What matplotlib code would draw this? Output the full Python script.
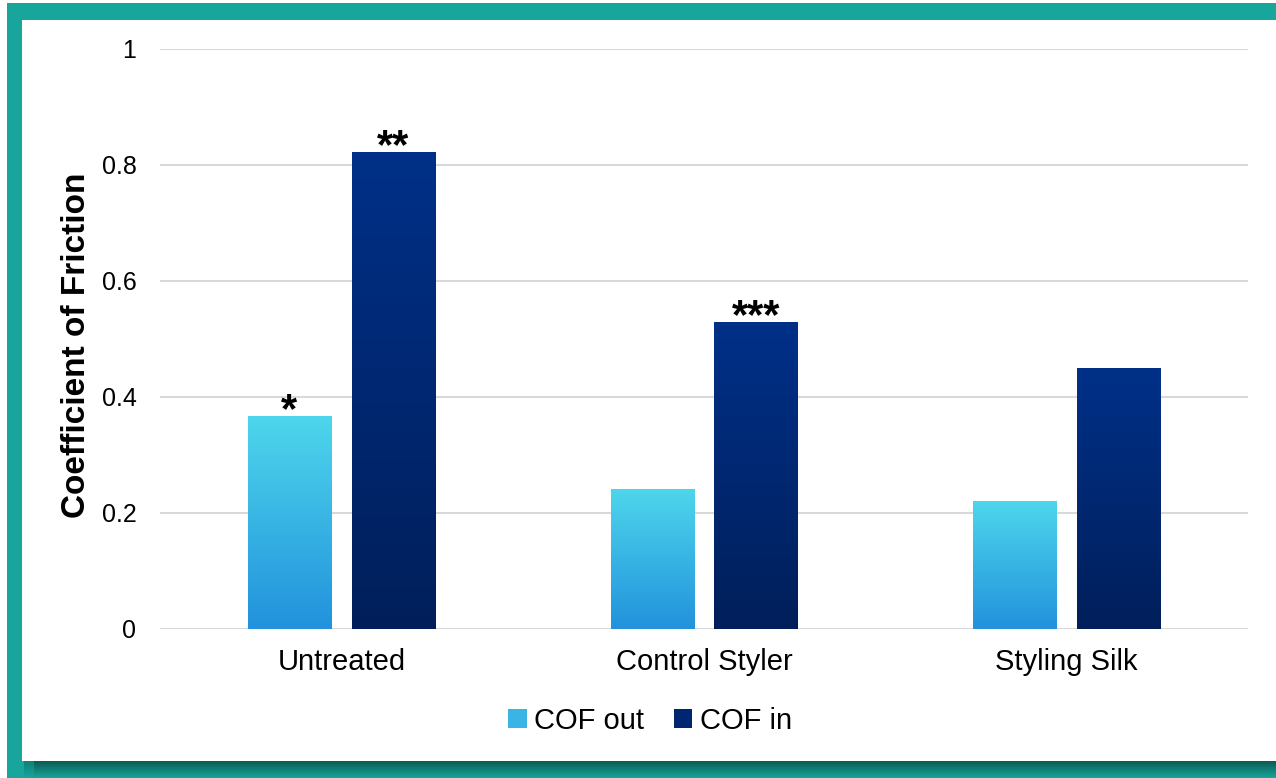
import numpy as np
import matplotlib
matplotlib.use("Agg")
import matplotlib.pyplot as plt
from matplotlib.patches import Rectangle, Patch
from matplotlib.colors import LinearSegmentedColormap

plt.rcParams['font.family'] = ['Liberation Sans', 'DejaVu Sans']

categories = ['Untreated', 'Control Styler', 'Styling Silk']
cof_out = [0.367, 0.240, 0.219]
cof_in = [0.821, 0.529, 0.450]
stars_out = ['*', '', '']
stars_in = ['**', '***', '']
series_names = ['COF out', 'COF in']
yticks = [0, 0.2, 0.4, 0.6, 0.8, 1]
ytick_labels = ['0', '0.2', '0.4', '0.6', '0.8', '1']

W, H = 1276, 778
fig = plt.figure(figsize=(W / 100, H / 100), dpi=100)

# background frame (pixel coords)
bg = fig.add_axes([0, 0, 1, 1])
teal = '#17A59C'
bg.add_patch(Rectangle((7, 3), W - 7, H - 3, color=teal, lw=0, zorder=1))
shadow = LinearSegmentedColormap.from_list('sh', ['#0C5A53', teal])
grad = np.linspace(0, 1, 64).reshape(-1, 1)
bg.imshow(grad, cmap=shadow, extent=(34, W, H, 761), aspect='auto', zorder=2)
bg.imshow(grad, cmap=shadow, extent=(24, 34, H, 761), aspect='auto', zorder=2, alpha=0.5)
bg.add_patch(Rectangle((22, 20), W - 22, 741, color='white', lw=0, zorder=3))
bg.set_xlim(0, W)
bg.set_ylim(H, 0)
bg.axis('off')

ax = fig.add_axes([160 / W, 1 - 629 / H, 1088 / W, 580 / H])
ax.set_facecolor('none')

x = np.arange(len(categories))
width = 0.229
off = 0.143
b_out = ax.bar(x - off, cof_out, width, color='none', zorder=3)
b_in = ax.bar(x + off, cof_in, width, color='none', zorder=3)

cm_out = LinearSegmentedColormap.from_list('out', ['#2292DC', '#4ED6EC'])
cm_in = LinearSegmentedColormap.from_list('in', ['#001F5A', '#003088'])
g = np.linspace(0, 1, 256).reshape(-1, 1)
for bars, cm in [(b_out, cm_out), (b_in, cm_in)]:
    for r in bars:
        x0, w, h = r.get_x(), r.get_width(), r.get_height()
        ax.imshow(g, cmap=cm, origin='lower', extent=(x0, x0 + w, 0, h),
                  aspect='auto', zorder=3)

for bars, labels in [(b_out, stars_out), (b_in, stars_in)]:
    for r, s in zip(bars, labels):
        if s:
            ax.annotate(s, (r.get_x() + r.get_width() / 2, r.get_height()),
                        xytext=(0, -4), textcoords='offset points',
                        ha='center', va='baseline', fontsize=30,
                        fontweight='bold', zorder=4)

ax.set_xlim(-0.5, len(categories) - 0.5)
ax.set_ylim(0, 1)
ax.set_yticks(yticks)
ax.set_yticklabels(ytick_labels)
ax.set_xticks(x)
ax.set_xticklabels(categories)
ax.tick_params(axis='y', length=0, pad=17, labelsize=18)
ax.tick_params(axis='x', length=0, pad=14, labelsize=21)
ax.grid(axis='y', color='#D9D9D9', lw=1.5, zorder=0)
for s in ax.spines.values():
    s.set_visible(False)
ax.set_ylabel('Coefficient of Friction', fontsize=24, fontweight='bold', va='center')
ax.yaxis.set_label_coords(-0.077, 0.49)

handles = [Patch(facecolor='#3AB4E4', edgecolor='none'),
           Patch(facecolor='#002670', edgecolor='none')]
fig.legend(handles, series_names, loc='center', bbox_to_anchor=(650 / W, 1 - 721 / H),
           ncol=2, frameon=False, fontsize=21, handlelength=0.65, handleheight=0.65,
           handletextpad=0.25, columnspacing=1.0)

fig.savefig('out.png', dpi=100)
